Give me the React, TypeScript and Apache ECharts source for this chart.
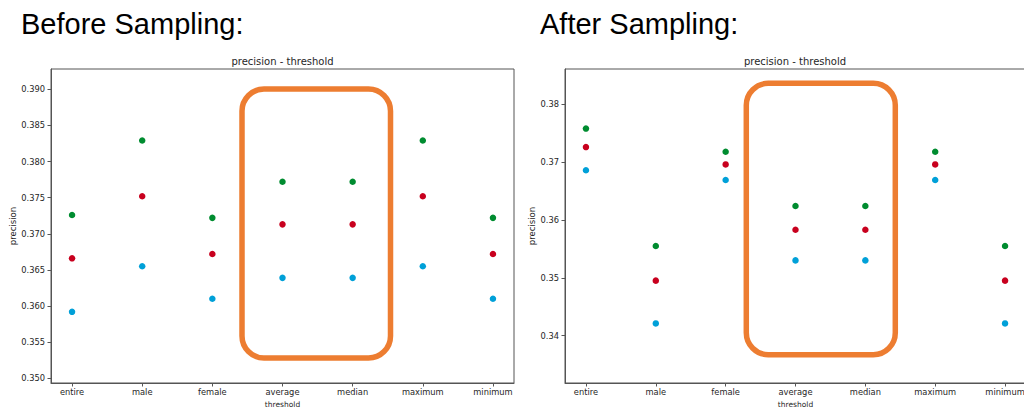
import React, { useEffect, useRef } from "react";
import * as echarts from "echarts";

const categories = ["entire", "male", "female", "average", "median", "maximum", "minimum"];

const beforeGreen = [0.3726, 0.3829, 0.3722, 0.3772, 0.3772, 0.3829, 0.3722];
const beforeRed = [0.3666, 0.3752, 0.3672, 0.3713, 0.3713, 0.3752, 0.3672];
const beforeBlue = [0.3592, 0.3655, 0.361, 0.3639, 0.3639, 0.3655, 0.361];

const afterGreen = [0.3758, 0.3555, 0.3718, 0.3624, 0.3624, 0.3718, 0.3555];
const afterRed = [0.3726, 0.3495, 0.3696, 0.3583, 0.3583, 0.3696, 0.3495];
const afterBlue = [0.3686, 0.3421, 0.3669, 0.353, 0.353, 0.3669, 0.3421];

const beforeTicks = [0.35, 0.355, 0.36, 0.365, 0.37, 0.375, 0.38, 0.385, 0.39];
const afterTicks = [0.34, 0.35, 0.36, 0.37, 0.38];

const panelTitles = ["Before Sampling:", "After Sampling:"];
const chartTitle = "precision - threshold";
const xName = "threshold";
const yName = "precision";

const GREEN = "#008c30";
const RED = "#c8001e";
const BLUE = "#00a0d8";
const ORANGE = "#ED7D31";
const TEXT = "#262626";
const FRAME = "#555555";
const FONT = "DejaVu Sans";

export default function App() {
  const ref = useRef<HTMLDivElement>(null);

  useEffect(() => {
    if (!ref.current) return;
    const chart = echarts.init(ref.current, undefined, { renderer: "svg" });

    const catIdx = categories.map((_, i) => i);
    const toPairs = (vals: number[]) => vals.map((v, i) => [i, v]);

    const xAxisBase = (gridIndex: number) => ({
      type: "value",
      gridIndex,
      min: -0.3,
      max: 6.3,
      name: xName,
      nameLocation: "middle",
      nameGap: 13,
      nameTextStyle: { color: TEXT, fontSize: 7.5, lineHeight: 8, fontFamily: FONT },
      axisLine: { show: true, onZero: false, lineStyle: { color: FRAME, width: 1 } },
      axisTick: {
        show: true,
        length: 3.5,
        inside: false,
        customValues: catIdx,
        lineStyle: { color: FRAME },
      },
      axisLabel: {
        show: true,
        customValues: catIdx,
        margin: 4.5,
        color: TEXT,
        fontSize: 8.3,
        fontFamily: FONT,
        formatter: (v: number) => categories[Math.round(v)] ?? "",
      },
      splitLine: { show: false },
    });

    const yAxisBase = (
      gridIndex: number,
      min: number,
      max: number,
      ticks: number[],
      digits: number,
      gap: number
    ) => ({
      type: "value",
      gridIndex,
      min,
      max,
      name: yName,
      nameLocation: "middle",
      nameGap: gap,
      nameTextStyle: { color: TEXT, fontSize: 8.5, fontFamily: FONT },
      axisLine: { show: true, onZero: false, lineStyle: { color: FRAME, width: 1 } },
      axisTick: {
        show: true,
        length: 3.5,
        customValues: ticks,
        lineStyle: { color: FRAME },
      },
      axisLabel: {
        show: true,
        customValues: ticks,
        margin: 6,
        color: TEXT,
        fontSize: 8.3,
        fontFamily: FONT,
        formatter: (v: number) => v.toFixed(digits),
      },
      splitLine: { show: false },
    });

    const scatter = (xi: number, data: number[], color: string) => ({
      type: "scatter",
      xAxisIndex: xi,
      yAxisIndex: xi,
      data: toPairs(data),
      symbol: "circle",
      symbolSize: 6.5,
      itemStyle: { color, opacity: 1 },
      silent: true,
    });

    chart.setOption({
      animation: false,
      backgroundColor: "#ffffff",
      grid: [
        {
          left: 51,
          top: 69,
          width: 463,
          height: 314,
          show: true,
          borderColor: FRAME,
          borderWidth: 1,
          backgroundColor: "transparent",
          containLabel: false,
          outerBoundsMode: "none",
        },
        {
          left: 565,
          top: 69,
          width: 461,
          height: 314,
          show: true,
          borderColor: FRAME,
          borderWidth: 1,
          backgroundColor: "transparent",
          containLabel: false,
          outerBoundsMode: "none",
        },
      ],
      xAxis: [xAxisBase(0), xAxisBase(1)],
      yAxis: [
        yAxisBase(0, 0.34935, 0.3928, beforeTicks, 3, 33),
        yAxisBase(1, 0.3318, 0.3861, afterTicks, 2, 26),
      ],
      series: [
        scatter(0, beforeGreen, GREEN),
        scatter(0, beforeRed, RED),
        scatter(0, beforeBlue, BLUE),
        scatter(1, afterGreen, GREEN),
        scatter(1, afterRed, RED),
        scatter(1, afterBlue, BLUE),
      ],
      graphic: [
        {
          type: "text",
          left: 21,
          top: 9,
          style: {
            text: panelTitles[0],
            fill: "#000000",
            font: "29px 'Liberation Sans'",
          },
        },
        {
          type: "text",
          left: 540,
          top: 9,
          style: {
            text: panelTitles[1],
            fill: "#000000",
            font: "29px 'Liberation Sans'",
          },
        },
        {
          type: "text",
          x: 282.5,
          y: 61,
          style: {
            text: chartTitle,
            fill: TEXT,
            font: "10px 'DejaVu Sans'",
            align: "center",
            verticalAlign: "middle",
          },
        },
        {
          type: "text",
          x: 795,
          y: 61,
          style: {
            text: chartTitle,
            fill: TEXT,
            font: "10px 'DejaVu Sans'",
            align: "center",
            verticalAlign: "middle",
          },
        },
        {
          type: "rect",
          shape: { x: 242, y: 89, width: 148.5, height: 269, r: 22 },
          style: { fill: "none", stroke: ORANGE, lineWidth: 5.5 },
          z: 100,
        },
        {
          type: "rect",
          shape: { x: 746.3, y: 83.3, width: 149, height: 271.4, r: 22 },
          style: { fill: "none", stroke: ORANGE, lineWidth: 5.5 },
          z: 100,
        },
      ],
    });

    return () => {
      chart.dispose();
    };
  }, []);

  return (
    <div
      ref={ref}
      style={{
        position: "fixed",
        left: 0,
        top: 0,
        width: 1024,
        height: 407,
        background: "#ffffff",
      }}
    />
  );
}
